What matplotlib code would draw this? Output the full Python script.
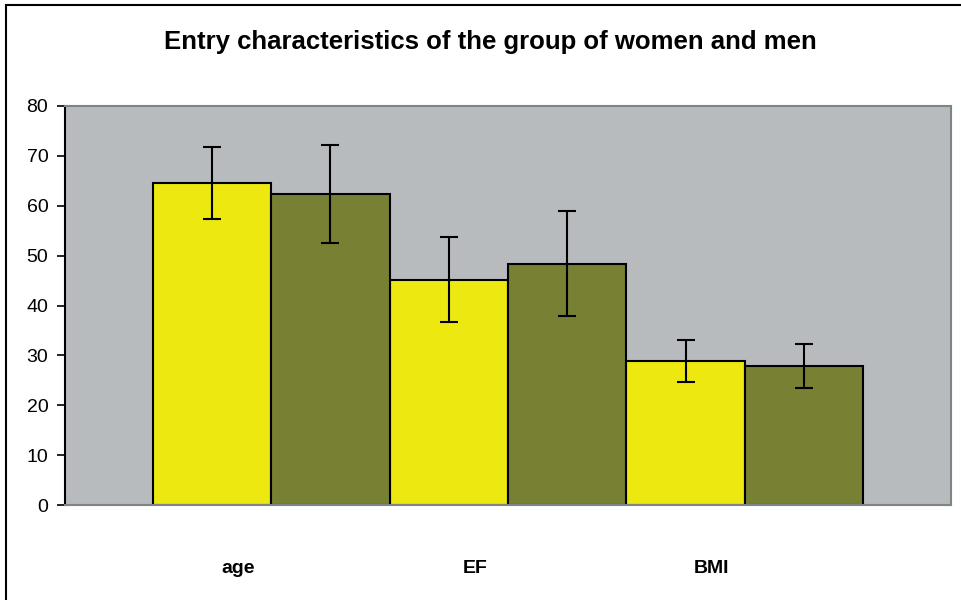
import matplotlib.pyplot as plt
import numpy as np
from matplotlib.patches import Rectangle

plt.rcParams["font.family"] = ["Liberation Sans", "DejaVu Sans"]

# data
categories = ["age", "EF", "BMI"]
women_mean = [64.5, 45.2, 28.9]
women_err = [7.2, 8.5, 4.2]
men_mean = [62.3, 48.4, 27.9]
men_err = [9.8, 10.6, 4.4]
yticks = [0, 10, 20, 30, 40, 50, 60, 70, 80]

YELLOW = "#ede810"
OLIVE = "#788034"
PLOT_BG = "#b8bbbe"

fig = plt.figure(figsize=(9.62, 6.0), dpi=100)
W, H = 962, 600
# plot area in pixels: x 65..951, y 106..505
ax = fig.add_axes([65 / W, 1 - 505 / H, (951 - 65) / W, (505 - 106) / H])
ax.set_facecolor(PLOT_BG)

x = np.arange(len(categories))
width = 0.5
err_kw = dict(ecolor="black", elinewidth=1.5, capsize=6.5, capthick=1.5)
ax.bar(x - width / 2, women_mean, width, yerr=women_err, color=YELLOW,
       edgecolor="black", linewidth=1.5, error_kw=err_kw, zorder=2)
ax.bar(x + width / 2, men_mean, width, yerr=men_err, color=OLIVE,
       edgecolor="black", linewidth=1.5, error_kw=err_kw, zorder=2)

ax.set_xlim(-0.871, 2.871)
ax.set_ylim(0, 80)
ax.set_yticks(yticks)
ax.tick_params(axis="y", direction="out", length=6, width=1.2, labelsize=14, pad=6)

# category labels sit a little left of the bar groups in the original
ax.set_xticks(x - 0.14)
ax.set_xticklabels(categories, fontsize=14, fontweight="bold")
ax.tick_params(axis="x", length=0, pad=39.5)

for side in ["top", "right", "bottom"]:
    ax.spines[side].set_color("#7d8585")
    ax.spines[side].set_linewidth(1.5)
ax.spines["left"].set_color("black")
ax.spines["left"].set_linewidth(1.5)

fig.text(490 / W, 1 - 42 / H, "Entry characteristics of the group of women and men",
         ha="center", va="center", fontsize=18.5, fontweight="bold")

# outer chart frame (left and top edges visible)
fig.patches.append(Rectangle((6 / W, -0.1), 1.2, 1 - 5 / H + 0.1, transform=fig.transFigure,
                             fill=False, edgecolor="black", linewidth=1.5))

fig.savefig("out.png", dpi=100)
